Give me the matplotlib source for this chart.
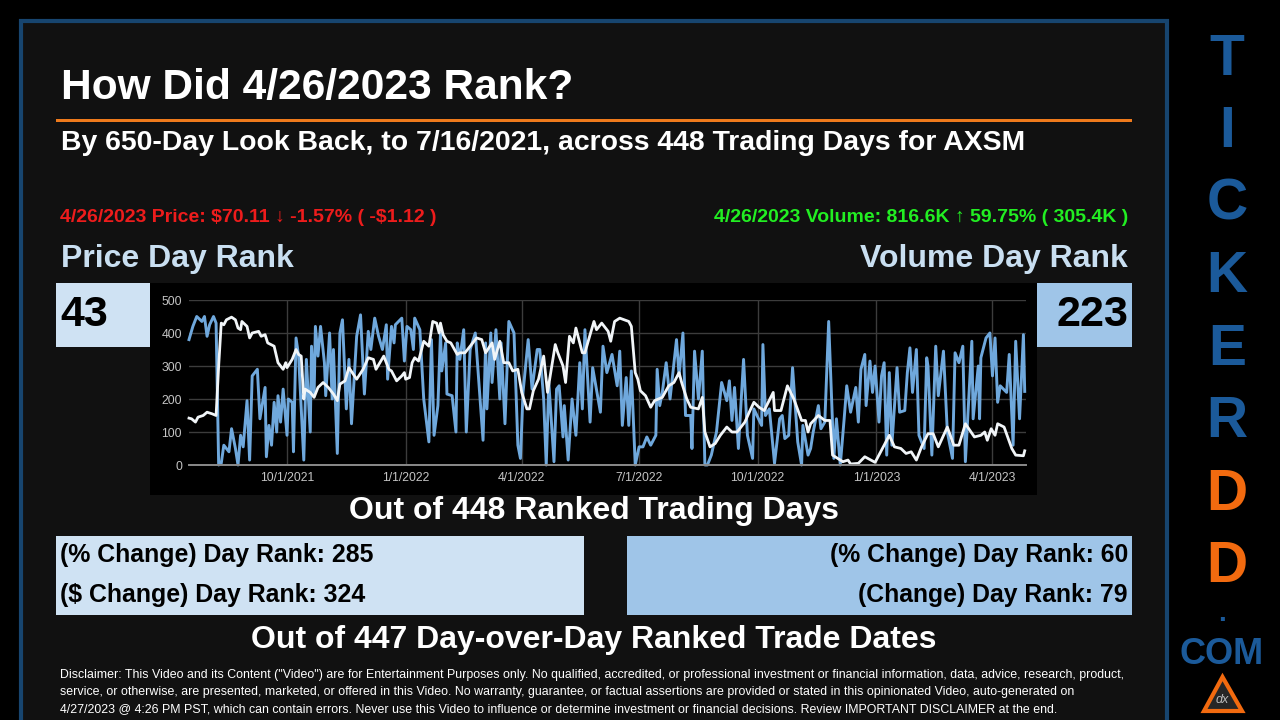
import matplotlib
matplotlib.use("Agg")
import matplotlib.pyplot as plt
from matplotlib.patches import Polygon, Rectangle

plt.rcParams["font.family"] = ["Liberation Sans", "DejaVu Sans"]

COLORS = {
    "panel": "#111111",
    "border": "#17456F",
    "orange": "#EE7A1C",
    "light_blue": "#CFE2F3",
    "mid_blue": "#9FC5E8",
    "heading": "#C9DFF1",
    "side_blue": "#1B5A9A",
    "side_orange": "#F26A0F",
    "volume": "#6FA8DC",
    "price": "#F1F5F8",
    "grid": "#3C3C3C",
    "tick": "#C4C4C4",
}

# days since 7/16/2021 and rank
volume_days = [
    1, 4, 7, 11, 13, 15, 17, 20, 22, 24, 26, 28, 32, 34, 37, 39, 41, 43, 46, 48, 50, 54, 56, 60, 61, 63, 65, 67, 69,
    70, 72, 74, 77, 78, 81, 82, 84, 86, 90, 92, 95, 96, 98, 99, 101, 103, 106, 107, 110, 112, 113, 116, 118, 120,
    123, 125, 127, 131, 134, 137, 140, 142, 145, 148, 151, 154, 155, 158, 160, 161, 166, 168, 170, 173, 175, 176,
    180, 183, 187, 189, 191, 194, 196, 197, 200, 201, 205, 208, 209, 211, 214, 216, 219, 223, 229, 231, 232, 235,
    236, 239, 242, 243, 246, 249, 253, 256, 258, 260, 264, 267, 271, 273, 276, 278, 280, 284, 286, 288, 291, 292,
    295, 298, 301, 304, 306, 308, 312, 314, 320, 322, 325, 329, 333, 335, 337, 340, 342, 344, 347, 350, 353, 356,
    359, 363, 364, 366, 368, 371, 374, 379, 381, 384, 386, 390, 391, 393, 396, 399, 401, 403, 406, 410, 414, 418,
    420, 422, 424, 427, 431, 434, 438, 439, 445, 446, 448, 451, 455, 459, 461, 463, 466, 469, 473, 476, 477, 481,
    483, 485, 489, 491, 494, 497, 501, 503, 506, 509, 511, 514, 518, 520, 522, 525, 526, 529, 531, 533, 536, 538,
    540, 542, 544, 546, 550, 552, 556, 558, 560, 562, 565, 567, 571, 573, 574, 577, 580, 582, 586, 589, 593, 595,
    598, 601, 603, 608, 609, 613, 614, 615, 619, 622, 624, 626, 628, 630, 635, 637, 640, 642, 645, 648, 649,
]
volume_rank = [
    380, 420, 450, 435, 450, 390, 425, 450, 430, 0, 5, 60, 40, 110, 50, 0, 90, 55, 195, 15, 270, 290, 140, 235, 25,
    120, 60, 190, 100, 210, 130, 230, 90, 200, 190, 40, 385, 330, 15, 320, 100, 360, 210, 420, 330, 420, 310, 210,
    400, 200, 350, 35, 400, 440, 170, 320, 125, 390, 455, 215, 405, 350, 445, 390, 350, 425, 260, 420, 370, 425,
    445, 315, 420, 410, 350, 445, 410, 200, 70, 380, 90, 180, 400, 285, 370, 215, 210, 100, 370, 320, 410, 100,
    350, 400, 75, 370, 170, 400, 250, 410, 200, 370, 125, 435, 400, 60, 20, 220, 380, 230, 350, 350, 200, 0, 250,
    10, 230, 240, 85, 180, 15, 200, 90, 310, 170, 410, 130, 295, 160, 360, 280, 335, 240, 345, 120, 265, 120, 285,
    0, 55, 55, 85, 60, 90, 290, 180, 220, 310, 200, 380, 270, 400, 150, 150, 50, 345, 200, 345, 0, 0, 30, 100, 250,
    195, 255, 135, 235, 50, 320, 90, 20, 170, 120, 365, 150, 170, 5, 140, 150, 80, 90, 295, 70, 0, 120, 30, 50, 100,
    180, 110, 130, 435, 20, 140, 0, 140, 240, 160, 235, 130, 290, 335, 180, 315, 220, 300, 130, 270, 310, 30, 280,
    60, 295, 160, 165, 280, 355, 220, 350, 90, 50, 325, 300, 30, 360, 210, 345, 100, 20, 340, 310, 360, 10, 375,
    140, 300, 140, 325, 385, 400, 270, 385, 190, 240, 220, 335, 60, 375, 140, 395, 223,
]
price_days = [
    1, 3, 6, 8, 12, 15, 19, 22, 24, 26, 28, 30, 34, 37, 39, 41, 42, 46, 48, 50, 55, 57, 60, 62, 67, 70, 74, 76, 77,
    81, 84, 86, 88, 90, 91, 95, 98, 101, 105, 109, 113, 116, 118, 122, 125, 131, 136, 140, 144, 146, 149, 152, 156,
    158, 162, 166, 168, 169, 172, 174, 176, 179, 183, 187, 190, 193, 195, 196, 198, 201, 204, 209, 211, 215, 219,
    224, 228, 231, 236, 238, 242, 245, 249, 252, 256, 259, 263, 265, 268, 272, 276, 279, 285, 287, 291, 293, 296,
    299, 301, 306, 308, 312, 315, 317, 321, 326, 328, 331, 335, 342, 344, 347, 349, 351, 355, 359, 362, 368, 373,
    377, 381, 383, 387, 390, 396, 399, 401, 405, 409, 413, 418, 422, 426, 432, 436, 439, 443, 447, 454, 455, 460,
    465, 470, 476, 479, 481, 483, 489, 494, 498, 500, 504, 508, 512, 514, 520, 525, 533, 536, 540, 544, 548, 553,
    557, 561, 565, 569, 574, 578, 582, 589, 594, 598, 603, 610, 615, 618, 620, 623, 626, 628, 633, 639, 642, 648,
    649,
]
price_rank = [
    142, 140, 130, 145, 150, 160, 155, 150, 300, 430, 425, 440, 448, 440, 415, 410, 435, 420, 385, 400, 405, 390,
    395, 370, 360, 310, 290, 310, 295, 320, 350, 335, 330, 200, 230, 220, 205, 235, 250, 235, 215, 195, 245, 255,
    295, 260, 290, 325, 320, 290, 310, 330, 290, 285, 255, 270, 280, 260, 265, 310, 325, 315, 375, 360, 435, 430,
    400, 430, 395, 375, 370, 335, 340, 340, 360, 385, 380, 340, 370, 320, 375, 310, 310, 285, 290, 220, 170, 170,
    225, 260, 330, 220, 365, 340, 300, 250, 390, 370, 415, 340, 340, 395, 435, 410, 430, 405, 375, 435, 445, 435,
    420, 280, 260, 225, 210, 175, 195, 205, 240, 250, 280, 250, 200, 175, 170, 205, 100, 55, 65, 90, 115, 100, 100,
    130, 165, 190, 175, 165, 220, 165, 165, 240, 200, 135, 135, 100, 125, 150, 135, 135, 30, 20, 10, 15, 3, 5, 25,
    8, 30, 60, 90, 55, 50, 35, 40, 15, 55, 95, 95, 55, 115, 60, 60, 125, 85, 90, 100, 75, 110, 90, 125, 115, 50, 30,
    28, 43,
]
tick_days = [77, 169, 259, 350, 442, 534, 624]
tick_labels = ["10/1/2021", "1/1/2022", "4/1/2022", "7/1/2022", "10/1/2022", "1/1/2023", "4/1/2023"]
y_ticks = [0, 100, 200, 300, 400, 500]

side_letters = ["T", "I", "C", "K", "E", "R", "D", "D"]
side_centers = [60, 132, 205, 277, 350, 422, 495, 567]

disclaimer = [
    'Disclaimer: This Video and its Content ("Video") are for Entertainment Purposes only. No qualified, accredited, or professional investment or financial information, data, advice, research, product,',
    "service, or otherwise, are presented, marketed, or offered in this Video. No warranty, guarantee, or factual assertions are provided or stated in this opinionated Video, auto-generated on",
    "4/27/2023 @ 4:26 PM PST, which can contain errors. Never use this Video to influence or determine investment or financial decisions. Review IMPORTANT DISCLAIMER at the end.",
]

fig = plt.figure(figsize=(12.8, 7.2), dpi=100, facecolor="black")
page = fig.add_axes([0, 0, 1, 1])
page.set_xlim(0, 1280)
page.set_ylim(720, 0)
page.axis("off")


def box(x0, y0, x1, y1, color):
    page.add_patch(Rectangle((x0, y0), x1 - x0, y1 - y0, facecolor=color, linewidth=0))


def label(x, y, text, size, color="white", ha="left", weight="bold"):
    # va="center" sits about 3 px high for these fonts
    page.text(x, y + 3, text, fontsize=size, color=color, ha=ha, va="center", fontweight=weight, parse_math=False)


page.add_patch(Rectangle((21, 21), 1146, 720, facecolor=COLORS["panel"], edgecolor=COLORS["border"], linewidth=3))
box(56, 119, 1132, 122, COLORS["orange"])
box(56, 283, 150, 347, COLORS["light_blue"])
box(1037, 283, 1132, 347, COLORS["mid_blue"])
box(150, 283, 1037, 495, "black")
box(56, 536, 584, 615, COLORS["light_blue"])
box(627, 536, 1132, 615, COLORS["mid_blue"])

label(61, 85, "How Did 4/26/2023 Rank?", 30.6)
label(61, 140, "By 650-Day Look Back, to 7/16/2021, across 448 Trading Days for AXSM", 20.45)
label(60, 215, "4/26/2023 Price: $70.11 ↓ -1.57% ( -$1.12 )", 14, color="#EE1C1C")
label(1128, 215, "4/26/2023 Volume: 816.6K ↑ 59.75% ( 305.4K )", 14, color="#22EE22", ha="right")
label(61, 256, "Price Day Rank", 23, color=COLORS["heading"])
label(1128, 256, "Volume Day Rank", 23, color=COLORS["heading"], ha="right")
label(60, 312, "43", 31, color="black")
label(1128, 312, "223", 31, color="black", ha="right")
label(594, 508, "Out of 448 Ranked Trading Days", 23, ha="center")
label(60, 552, "(% Change) Day Rank: 285", 17.9, color="black")
label(60, 592, "($ Change) Day Rank: 324", 17.9, color="black")
label(1128, 552, "(% Change) Day Rank: 60", 17.85, color="black", ha="right")
label(1128, 592, "(Change) Day Rank: 79", 17.85, color="black", ha="right")
label(594, 637, "Out of 447 Day-over-Day Ranked Trade Dates", 23, ha="center")
for line_y, line in zip([672, 689, 706], disclaimer):
    label(60, line_y, line, 8.88, weight="normal")

for letter, center, index in zip(side_letters, side_centers, range(8)):
    color = COLORS["side_orange"] if index >= 6 else COLORS["side_blue"]
    label(1227, center - 3, letter, 41, color=color, ha="center")
label(1222, 611, ".", 20, color=COLORS["side_blue"], ha="center")
label(1222, 651, "COM", 26, color=COLORS["side_blue"], ha="center")
page.add_patch(Polygon([(1222.5, 677), (1204, 711), (1242, 711)], closed=True, facecolor="#262626",
                       edgecolor=COLORS["side_orange"], linewidth=3))
page.text(1222.5, 700, "dx", fontsize=9, color="#BBBBBB", ha="center", va="center", style="italic")

# plot area: 189..1026 px across, 300..465 px down
chart = fig.add_axes([189 / 1280, 1 - 465 / 720, 837 / 1280, 165 / 720], facecolor="none")
chart.set_xlim(1, 650)
chart.set_ylim(0, 500)
chart.set_xticks(tick_days, tick_labels)
chart.set_yticks(y_ticks)
chart.grid(color=COLORS["grid"], linewidth=1)
chart.set_axisbelow(True)
chart.spines[["top", "right", "left"]].set_visible(False)
chart.spines["bottom"].set_color("#8A8A8A")
chart.spines["bottom"].set_linewidth(1.4)
chart.tick_params(length=0, colors=COLORS["tick"], labelsize=8.8, pad=5)
chart.plot(volume_days, volume_rank, color=COLORS["volume"], linewidth=2.1, clip_on=False)
chart.plot(price_days, price_rank, color=COLORS["price"], linewidth=2.0, clip_on=False)

fig.savefig("out.png", dpi=100, facecolor=fig.get_facecolor())
